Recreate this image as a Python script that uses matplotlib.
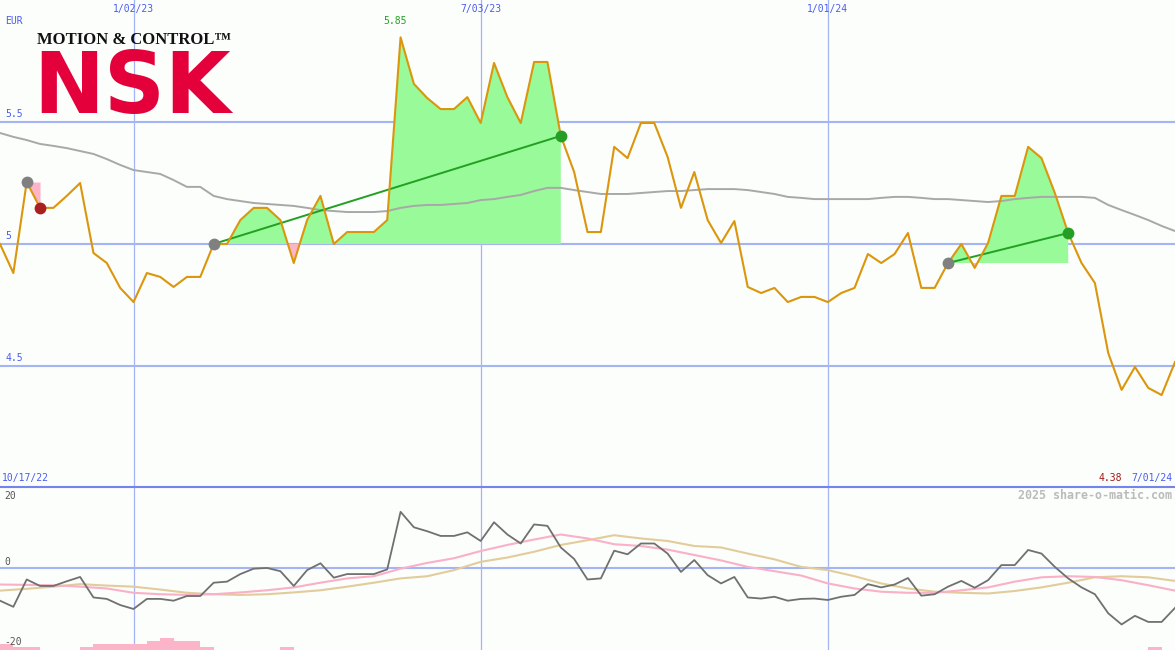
import numpy as np
import matplotlib
matplotlib.use("Agg")
import matplotlib.pyplot as plt
from matplotlib.lines import Line2D

# weekly closes (EUR), week 0 .. week 88
price = [5.000, 4.881, 5.254, 5.148, 5.148, 5.197, 5.250, 4.963, 4.922, 4.820,
         4.762, 4.881, 4.865, 4.824, 4.865, 4.865, 5.000, 5.000, 5.098, 5.148,
         5.148, 5.098, 4.922, 5.098, 5.197, 5.000, 5.049, 5.049, 5.049, 5.098,
         5.847, 5.656, 5.598, 5.553, 5.553, 5.602, 5.496, 5.742, 5.602, 5.496,
         5.746, 5.746, 5.443, 5.295, 5.049, 5.049, 5.398, 5.352, 5.496, 5.496,
         5.357, 5.148, 5.295, 5.098, 5.004, 5.094, 4.824, 4.799, 4.820, 4.762,
         4.783, 4.783, 4.762, 4.799, 4.820, 4.959, 4.922, 4.959, 5.045, 4.820,
         4.820, 4.922, 5.000, 4.902, 5.004, 5.197, 5.197, 5.398, 5.352, 5.209,
         5.045, 4.922, 4.840, 4.553, 4.402, 4.496, 4.410, 4.381, 4.516]

# long moving average (grey line)
ma_long = [5.455, 5.439, 5.426, 5.410, 5.402, 5.393, 5.381, 5.369, 5.348, 5.324,
           5.303, 5.295, 5.287, 5.262, 5.234, 5.234, 5.197, 5.184, 5.176, 5.168,
           5.164, 5.160, 5.156, 5.148, 5.139, 5.135, 5.131, 5.131, 5.131, 5.135,
           5.148, 5.156, 5.160, 5.160, 5.164, 5.168, 5.180, 5.184, 5.193, 5.201,
           5.217, 5.230, 5.230, 5.221, 5.213, 5.205, 5.205, 5.205, 5.209, 5.213,
           5.217, 5.217, 5.221, 5.225, 5.225, 5.225, 5.221, 5.213, 5.205, 5.193,
           5.189, 5.184, 5.184, 5.184, 5.184, 5.184, 5.189, 5.193, 5.193, 5.189,
           5.184, 5.184, 5.180, 5.176, 5.172, 5.176, 5.184, 5.189, 5.193, 5.193,
           5.193, 5.193, 5.189, 5.160, 5.139, 5.119, 5.098, 5.074, 5.053]

# trade signals: entry week -> exit week
entries = [2, 16, 71]
exits = [3, 42, 80]

# oscillator panel
osc = [-9.2, -10.9, -3.3, -5.1, -5.1, -3.8, -2.6, -8.3, -8.7, -10.4,
       -11.5, -8.7, -8.7, -9.2, -7.9, -7.9, -4.2, -3.9, -1.8, -0.3,
       -0.1, -1.0, -5.1, -0.7, 1.2, -2.8, -1.8, -1.8, -1.8, -0.5,
       15.5, 11.2, 10.1, 8.8, 8.8, 9.8, 7.4, 12.6, 9.2, 6.7,
       12.0, 11.6, 5.6, 2.4, -3.3, -3.0, 4.7, 3.7, 6.7, 6.7,
       3.9, -1.2, 2.1, -2.1, -4.4, -2.6, -8.3, -8.6, -8.1, -9.2,
       -8.7, -8.6, -9.0, -8.1, -7.6, -4.6, -5.5, -4.7, -2.9, -7.8,
       -7.4, -5.3, -3.7, -5.6, -3.5, 0.7, 0.7, 4.9, 3.9, 0.2,
       -3.0, -5.5, -7.4, -12.7, -15.8, -13.4, -15.1, -15.1, -11.2]

sig_weeks = list(range(0, 89, 2))
sig_pink = [-4.7, -4.8, -4.9, -5.3, -5.8, -7.0, -7.4, -7.6, -7.4, -6.9,
            -6.3, -5.5, -4.2, -3.0, -2.4, -0.3, 1.3, 2.6, 4.6, 6.3,
            7.8, 9.2, 8.1, 6.5, 6.0, 5.0, 3.5, 2.0, 0.2, -1.0,
            -2.2, -4.4, -5.8, -6.7, -7.0, -7.0, -6.3, -5.5, -3.9, -2.7,
            -2.4, -2.6, -3.5, -4.9, -6.4]
sig_tan = [-6.4, -5.9, -5.3, -4.6, -5.0, -5.3, -6.1, -7.0, -7.4, -7.6,
           -7.4, -6.9, -6.3, -5.3, -4.2, -3.0, -2.4, -0.7, 1.6, 2.8,
           4.4, 6.3, 7.6, 9.0, 8.1, 7.4, 6.0, 5.6, 3.9, 2.3,
           0.2, -0.7, -2.4, -4.4, -5.8, -6.7, -7.0, -7.2, -6.5, -5.5,
           -4.2, -2.7, -2.4, -2.7, -3.7]

bar_weeks = [0, 1, 2, 6, 7, 8, 9, 10, 11, 12, 13, 14, 15, 21, 86]
bar_height = [1.7, 0.9, 0.9, 0.9, 1.7, 1.7, 1.7, 1.7, 2.6, 3.4, 2.6, 2.6, 0.9, 0.9, 0.9]

date_weeks = [10, 36, 62]
date_labels = ["1/02/23", "7/03/23", "1/01/24"]
price_grid = [5.5, 5.0, 4.5]
price_grid_labels = ["5.5", "5", "4.5"]
osc_labels = ["20", "0", "-20"]
osc_label_pos = [0.945, 0.540, 0.049]   # axes fraction, as placed on the chart

BG = "#fbfefb"
GRID = "#a4b4f4"
BLUE_TXT = "#4b5cf0"
MONO = "DejaVu Sans Mono"

price = np.array(price)
weeks = np.arange(len(price))

fig = plt.figure(figsize=(11.75, 6.5), dpi=100)
fig.patch.set_facecolor(BG)
top = fig.add_axes([0, 163 / 650, 1, 487 / 650])
bot = fig.add_axes([0, 0, 1, 163 / 650])
for ax in (top, bot):
    ax.set_facecolor(BG)
    ax.set_xlim(0, 88)
    ax.set_xticks([])
    ax.set_yticks([])
    for s in ax.spines.values():
        s.set_visible(False)
    for w in date_weeks:
        ax.axvline(w, color=GRID, lw=0.9, zorder=1)

top.set_ylim(4.004, 6.0)
bot.set_ylim(-22.9, 22.4)

## price panel
for g, lab in zip(price_grid, price_grid_labels):
    top.axhline(g, color=GRID, lw=1.5, zorder=1)
    top.annotate(lab, (0, g), xytext=(4, 2), textcoords="offset points",
                 color=BLUE_TXT, fontsize=7, family=MONO, va="bottom")

top.plot(weeks, ma_long, color="#a8a8a8", lw=1.4, zorder=3)

for a, b in zip(entries, exits):
    xs = weeks[a:b + 1]
    ys = price[a:b + 1]
    base = price[a]
    top.fill_between(xs, ys, base, where=ys >= base, interpolate=True,
                     color="#98fa98", lw=0, zorder=2)
    top.fill_between(xs, ys, base, where=ys <= base, interpolate=True,
                     color="#fbb4c8", lw=0, zorder=2)
    if price[b] > base:
        top.plot([a, b], [base, price[b]], color="#22a022", lw=1.4, zorder=4)

top.plot(weeks, price, color="#dc960c", lw=1.5, zorder=5)

for a, b in zip(entries, exits):
    top.plot(a, price[a], "o", color="#808080", ms=8.5, mew=0, zorder=6)
    c = "#259e25" if price[b] > price[a] else "#aa2020"
    top.plot(b, price[b], "o", color=c, ms=8.5, mew=0, zorder=6)

hi = int(np.argmax(price))
top.annotate("%.2f" % price[hi], (hi, price[hi]), xytext=(-4, 8),
             textcoords="offset points", ha="center", va="bottom",
             color="#22a022", fontsize=7, family=MONO)

xt = top.get_xaxis_transform()
for w, lab in zip(date_weeks, date_labels):
    top.text(w, 0.9815, lab, transform=xt, ha="center", va="center",
             color=BLUE_TXT, fontsize=7, family=MONO)
top.text(0.004, 0.956, "EUR", transform=top.transAxes, ha="left", va="center",
         color=BLUE_TXT, fontsize=7, family=MONO)
top.text(0.002, 0.0175, "10/17/22", transform=top.transAxes, ha="left",
         va="center", color=BLUE_TXT, fontsize=7, family=MONO)
top.text(0.9975, 0.0175, "7/01/24", transform=top.transAxes, ha="right",
         va="center", color=BLUE_TXT, fontsize=7, family=MONO)
top.text(0.955, 0.0175, "%.2f" % price.min(), transform=top.transAxes,
         ha="right", va="center", color="#a01818", fontsize=7, family=MONO)

# logo
fig.text(37 / 1175, 1 - 44.5 / 650, "MOTION & CONTROL\u2122", ha="left",
         va="baseline", fontsize=12, family="Liberation Serif",
         fontweight="bold", color="#111111")
fig.text(33 / 1175, 1 - 113.5 / 650, "NSK", ha="left", va="baseline",
         fontsize=61, family="DejaVu Sans", fontweight="bold", color="#e4003a")

## oscillator panel
bot.axhline(0, color=GRID, lw=1.5, zorder=1)
bot.bar(bar_weeks, bar_height, width=1, align="edge", bottom=-22.9,
        color="#fbb4c8", lw=0, zorder=2)
bot.plot(sig_weeks, sig_tan, color="#e2cc9c", lw=1.5, zorder=3)
bot.plot(sig_weeks, sig_pink, color="#f9b0c8", lw=1.5, zorder=3)
bot.plot(weeks, osc, color="#707070", lw=1.3, zorder=4)

for lab, yp in zip(osc_labels, osc_label_pos):
    bot.text(0.004, yp, lab, transform=bot.transAxes, ha="left", va="center",
             color="#555555", fontsize=7, family=MONO, zorder=5)
bot.text(0.9975, 0.9466, "2025 share-o-matic.com", transform=bot.transAxes,
         ha="right", va="center", color="#bbbbbb", fontsize=8.4, family=MONO,
         fontweight="bold")

fig.add_artist(Line2D([0, 1], [163 / 650, 163 / 650], transform=fig.transFigure,
                      color="#7484ec", lw=1.5))

fig.savefig("out.png", dpi=100, facecolor=BG)
